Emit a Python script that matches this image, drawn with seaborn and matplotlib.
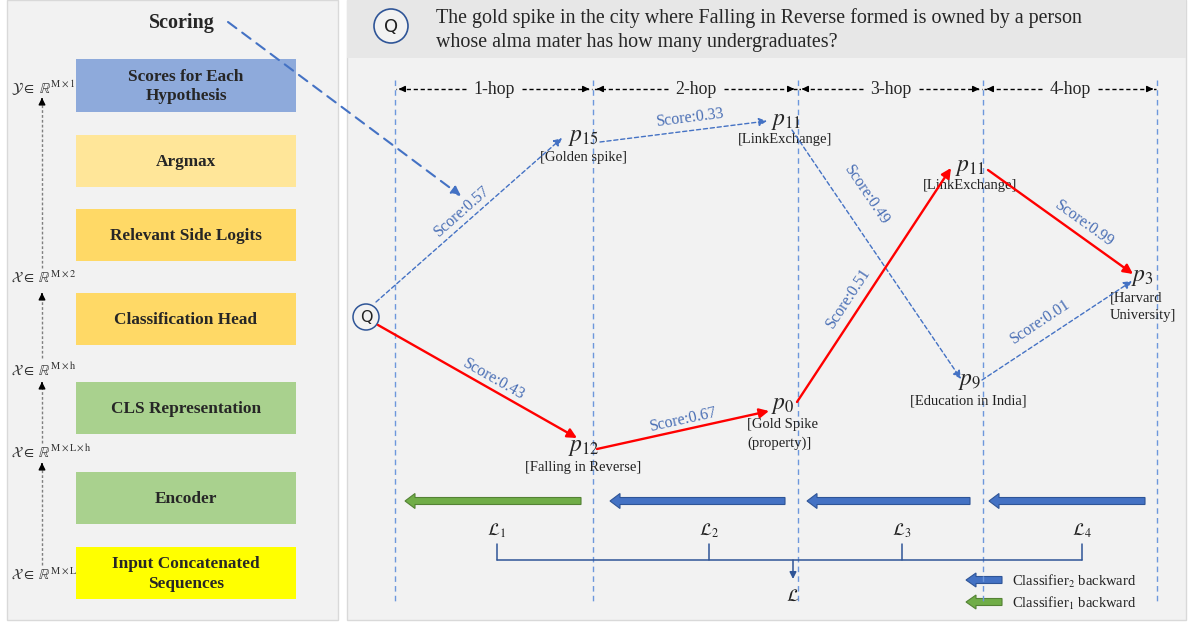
import numpy as np
import matplotlib
matplotlib.use("Agg")
import matplotlib.pyplot as plt
import seaborn as sns
from matplotlib.patches import Rectangle, Circle, FancyArrow

# ---------------- DATA ----------------
question = ["The gold spike in the city where Falling in Reverse formed is owned by a person",
            "whose alma mater has how many undergraduates?"]

stage_labels = ["Scores for Each\nHypothesis", "Argmax", "Relevant Side Logits",
                "Classification Head", "CLS Representation", "Encoder",
                "Input Concatenated\nSequences"]
stage_colors = ["#8eaadb", "#ffe699", "#ffd966", "#ffd966", "#a9d18e", "#a9d18e", "#ffff00"]

dim_labels = [r"$\mathcal{Y}\in\ \mathbb{R}^{\mathrm{M\times 1}}$",
              r"$\mathcal{X}\in\ \mathbb{R}^{\mathrm{M\times 2}}$",
              r"$\mathcal{X}\in\ \mathbb{R}^{\mathrm{M\times h}}$",
              r"$\mathcal{X}\in\ \mathbb{R}^{\mathrm{M\times L\times h}}$",
              r"$\mathcal{X}\in\ \mathbb{R}^{\mathrm{M\times L}}$"]

hop_labels = ["1-hop", "2-hop", "3-hop", "4-hop"]

node_names = ["p15", "p11a", "p11b", "p3", "p12", "p0", "p9"]
node_math = [r"$p_{15}$", r"$p_{11}$", r"$p_{11}$", r"$p_{3}$", r"$p_{12}$", r"$p_{0}$", r"$p_{9}$"]
node_caps = ["[Golden spike]", "[LinkExchange]", "[LinkExchange]", "[Harvard\nUniversity]",
             "[Falling in Reverse]", "[Gold Spike\n(property)]", "[Education in India]"]

edge_src = ["Q", "p15", "p11a", "p9", "Q", "p12", "p0", "p11b"]
edge_dst = ["p15", "p11a", "p9", "p3", "p12", "p0", "p11b", "p3"]
edge_scores = [0.57, 0.33, 0.49, 0.01, 0.43, 0.67, 0.51, 0.99]
edge_chosen = [False, False, False, False, True, True, True, True]

loss_labels = [r"$\mathcal{L}_1$", r"$\mathcal{L}_2$", r"$\mathcal{L}_3$", r"$\mathcal{L}_4$"]
legend_labels = [r"Classifier$_2$ backward", r"Classifier$_1$ backward"]

# ---------------- LAYOUT (pixels) ----------------
stage_y = [(59, 112), (135, 187), (209, 261), (293, 345), (382, 434), (472, 524), (547, 599)]
dim_y = [88, 277, 369, 451, 574]
arrow_segs = [(565, 460), (443, 379), (358, 290), (268, 95)]
hop_x = [395, 593, 798, 983, 1157]
node_xy = {"p15": (584, 137), "p11a": (786, 121), "p11b": (970, 167), "p3": (1142, 278),
           "p12": (584, 447), "p0": (783, 406), "p9": (970, 381)}
cap_xy = {"p15": (583, 157, "center"), "p11a": (785, 139, "center"),
          "p11b": (970, 186, "center"), "p3": (1110, 307, "left"),
          "p12": (583, 468, "center"), "p0": (747, 434, "left"), "p9": (968, 401, "center")}
edge_path = [(376, 302, 562, 138), (600, 142, 767, 121), (792, 130, 961, 379),
             (982, 380, 1132, 281), (378, 325, 577, 438), (597, 449, 769, 411),
             (797, 402, 951, 168), (988, 170, 1133, 274)]
score_pos = [(462, 211), (690, 118), (866, 195), (1040, 322), (494, 379),
             (684, 420), (848, 298), (1084, 224)]
loss_x = [497, 709, 902, 1082]
block_arrows = [(581, 405, "#70ad47", "#548235"), (785, 610, "#4472c4", "#2f5597"),
                (970, 807, "#4472c4", "#2f5597"), (1145, 989, "#4472c4", "#2f5597")]

# ---------------- STYLE ----------------
sns.set_style("white")
plt.rcParams["font.family"] = ["Liberation Serif", "DejaVu Serif"]
plt.rcParams["mathtext.fontset"] = "stix"

BLUE = "#4472c4"
DBLUE = "#2f5597"
TXTBLUE = "#4a6fb5"

fig = plt.figure(figsize=(11.88, 6.23), dpi=100)
ax = fig.add_axes([0, 0, 1, 1])
ax.set_xlim(0, 1188)
ax.set_ylim(623, 0)
ax.axis("off")

# ---------------- LEFT PANEL ----------------
ax.add_patch(Rectangle((7, 0), 331, 620, fc="#f2f2f2", ec="#d9d9d9", lw=1))
ax.text(182, 23, "Scoring", ha="center", va="center", fontsize=14.5, fontweight="bold")
for lab, col, (y0, y1) in zip(stage_labels, stage_colors, stage_y):
    ax.add_patch(Rectangle((76, y0), 220, y1 - y0, fc=col, ec="none"))
    ax.text(186, (y0 + y1) / 2 + 1, lab, ha="center", va="center", fontsize=12.4,
            fontweight="bold", linespacing=1.3)
for lab, y in zip(dim_labels, dim_y):
    ax.text(11, y, lab, ha="left", va="center", fontsize=10.5, color="#333333")
for y0, y1 in arrow_segs:
    ax.plot([42, 42], [y0, y1 + 6], color="#7f7f7f", lw=1, ls=(0, (2, 1.5)))
    ax.annotate("", xy=(42, y1), xytext=(42, y1 + 7),
                arrowprops=dict(arrowstyle="-|>", color="black", lw=1, mutation_scale=10))

# ---------------- RIGHT PANEL ----------------
ax.add_patch(Rectangle((347, 0), 839, 620, fc="#f2f2f2", ec="#d9d9d9", lw=1))
ax.add_patch(Rectangle((347, 0), 839, 58, fc="#e7e7e7", ec="none"))
ax.add_patch(Circle((391, 26), 17, fc="#f2f2f2", ec=DBLUE, lw=1.2))
ax.text(391, 27, "Q", ha="center", va="center", fontsize=13, family="DejaVu Sans", color="#222222")
for i, line in enumerate(question):
    ax.text(436, 18 + 25 * i, line, ha="left", va="center", fontsize=14.4)

for x in hop_x:
    ax.plot([x, x], [80, 605], color="#6d97dc", lw=1, ls=(0, (4, 3)))

for i, lab in enumerate(hop_labels):
    xa, xb = hop_x[i], hop_x[i + 1]
    c = (xa + xb) / 2
    ax.text(c, 89, lab, ha="center", va="center", fontsize=12.8)
    for tail, head in [(c - 28, xa + 1), (c + 28, xb - 1)]:
        ax.plot([tail, head], [89, 89], color="black", lw=1, ls=(0, (3, 2)))
        d = 1 if head > tail else -1
        ax.annotate("", xy=(head, 89), xytext=(head - d * 8, 89),
                    arrowprops=dict(arrowstyle="-|>", color="black", lw=1, mutation_scale=9))

# scoring link arrow
ax.annotate("", xy=(461, 196), xytext=(228, 22),
            arrowprops=dict(arrowstyle="-|>", color=BLUE, lw=1.5, ls=(0, (5, 3.5)),
                            mutation_scale=14, shrinkA=0, shrinkB=0))

# Q node
ax.add_patch(Circle((366, 317), 13, fc="#f2f2f2", ec=DBLUE, lw=1.1))
ax.text(366, 318, "Q", ha="center", va="center", fontsize=11.5, family="DejaVu Sans", color="#222222")

for name, m, cap in zip(node_names, node_math, node_caps):
    x, y = node_xy[name]
    ax.text(x, y, m, ha="center", va="center", fontsize=17)
    cx, cy, ha = cap_xy[name]
    ax.text(cx, cy, cap, ha=ha, va="center", fontsize=10.5, linespacing=1.45, color="#222222")

for path, sc, chosen, pos in zip(edge_path, edge_scores, edge_chosen, score_pos):
    x1, y1, x2, y2 = path
    if chosen:
        props = dict(arrowstyle="-|>", color="#ff0000", lw=1.7, mutation_scale=14,
                     shrinkA=0, shrinkB=0)
    else:
        props = dict(arrowstyle="-|>", color=BLUE, lw=1, ls=(0, (3, 2)), mutation_scale=12,
                     shrinkA=0, shrinkB=0)
    ax.annotate("", xy=(x2, y2), xytext=(x1, y1), arrowprops=props)
    ang = np.degrees(np.arctan2(-(y2 - y1), x2 - x1))
    ax.text(pos[0], pos[1], f"Score:{sc:.2f}", ha="center", va="center", fontsize=11.5,
            rotation=ang, rotation_mode="anchor", color=TXTBLUE)

# ---------------- BACKWARD ARROWS / LOSSES ----------------
for xs, xe, fc, ec in block_arrows:
    ax.add_patch(FancyArrow(xs, 501, xe - xs, 0, width=7, head_width=15, head_length=10,
                            length_includes_head=True, fc=fc, ec=ec, lw=0.8))
for lab, x in zip(loss_labels, loss_x):
    ax.text(x, 531, lab, ha="center", va="center", fontsize=12.5, color="#222222")
    ax.plot([x, x], [544, 560], color=DBLUE, lw=1.1)
ax.plot([loss_x[0], loss_x[-1]], [560, 560], color=DBLUE, lw=1.1)
ax.annotate("", xy=(793, 579), xytext=(793, 560),
            arrowprops=dict(arrowstyle="-|>", color=DBLUE, lw=1.1, mutation_scale=10,
                            shrinkA=0, shrinkB=0))
ax.text(793, 597, r"$\mathcal{L}$", ha="center", va="center", fontsize=12.5, color="#222222")

legend_cols = [("#4472c4", "#2f5597"), ("#70ad47", "#548235")]
for i, (lab, (fc, ec)) in enumerate(zip(legend_labels, legend_cols)):
    y = 580 + 22 * i
    ax.add_patch(FancyArrow(1002, y, -36, 0, width=7, head_width=14, head_length=10,
                            length_includes_head=True, fc=fc, ec=ec, lw=0.8))
    ax.text(1012, y + 1, lab, ha="left", va="center", fontsize=10.5, color="#222222")

fig.savefig("out.png", dpi=100)
